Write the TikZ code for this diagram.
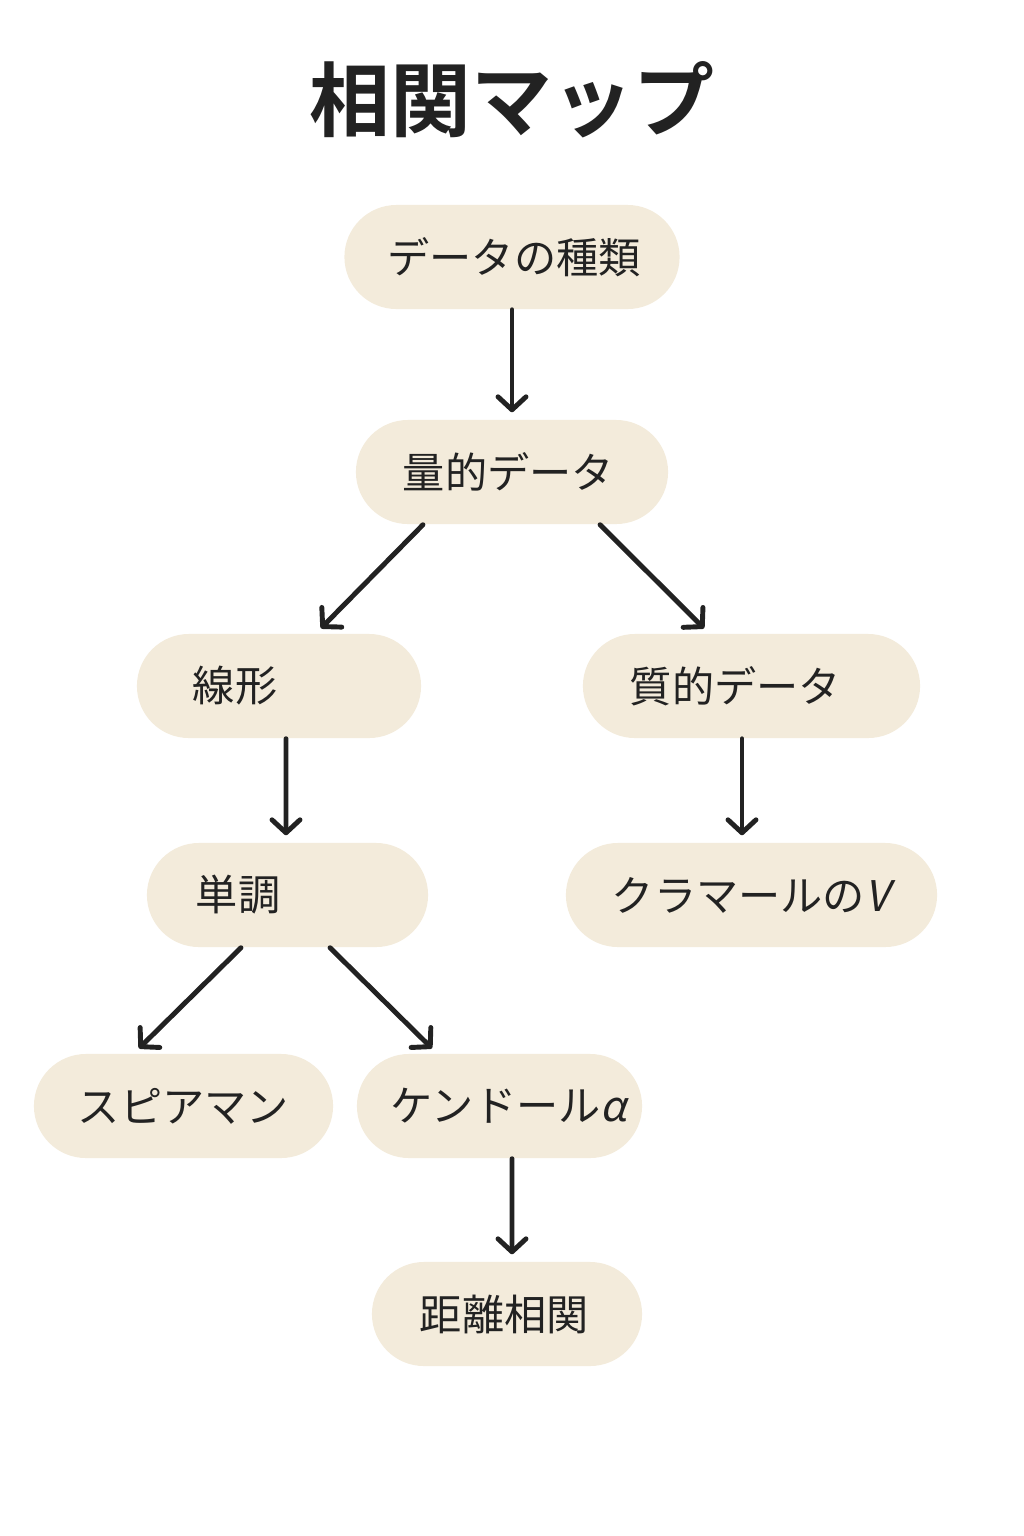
\documentclass[tikz,border=0pt]{standalone}
\usepackage{fontspec}
\setmainfont{Noto Sans CJK JP}
\newfontfamily\titlefont{Noto Sans CJK JP Bold}
\newfontfamily\slantfont[FakeSlant=0.2]{Noto Sans CJK JP}
\usetikzlibrary{arrows.meta}
\definecolor{pillfill}{HTML}{F3EBDB}
\definecolor{inkdark}{HTML}{222222}
\begin{document}
\begin{tikzpicture}
[x=0.01cm,y=-0.01cm,
  nodedecorate/.style={shape=rectangle,rounded corners=0.52cm,fill=pillfill,
    minimum height=1.04cm,inner ysep=0pt,align=left,
    text=inkdark,font=\fontsize{12pt}{14pt}\selectfont},%
  linedecorate/.style={-{Straight Barb[round,length=0.13cm,width=0.28cm]},
    line width=1.4pt,draw=inkdark,line cap=round,shorten >=0.07cm}]
\useasboundingbox (0,0) rectangle (1024,1536);
%% title
\node (title) at (512,100) [text=inkdark,font=\titlefont\fontsize{23pt}{26pt}\selectfont] {相関マップ};
%% nodes or vertices
\foreach \nodename/\x/\y/\w/\p/\txt in {n1/512/257/3.35/0.43/データの種類, n2/512/472/3.12/0.47/量的データ,
  n3/279/686/2.84/0.56/線形, n4/751.5/686/3.37/0.47/質的データ,
  n5/287.5/895/2.81/0.49/単調, n6/751.5/895/3.71/0.46/{クラマールの{\slantfont V}},
  n7/183.5/1106/2.99/0.44/スピアマン, n8/499.5/1106/2.85/0.34/{ケンドール{\slantfont α}},
  n9/507/1314/2.70/0.48/距離相関}
{
  \pgfmathsetmacro{\tw}{\w-2*\p}
  \node (\nodename) at (\x,\y) [nodedecorate,inner xsep=\p cm,text width=\tw cm] {\txt};
}
%% edges or lines
\path
\foreach \startnode/\sx/\endnode/\ex in {n1/0/n2/0, n2/-0.89/n3/0.37, n2/0.88/n4/-0.425,
  n3/0.07/n5/-0.015, n4/-0.095/n6/-0.095, n5/-0.465/n7/-0.495,
  n5/0.425/n8/-0.625, n8/0.125/n9/0.05}
{
  ([xshift=\sx cm]\startnode.south) edge[linedecorate] ([xshift=\ex cm]\endnode.north)
};
\end{tikzpicture}
\end{document}
